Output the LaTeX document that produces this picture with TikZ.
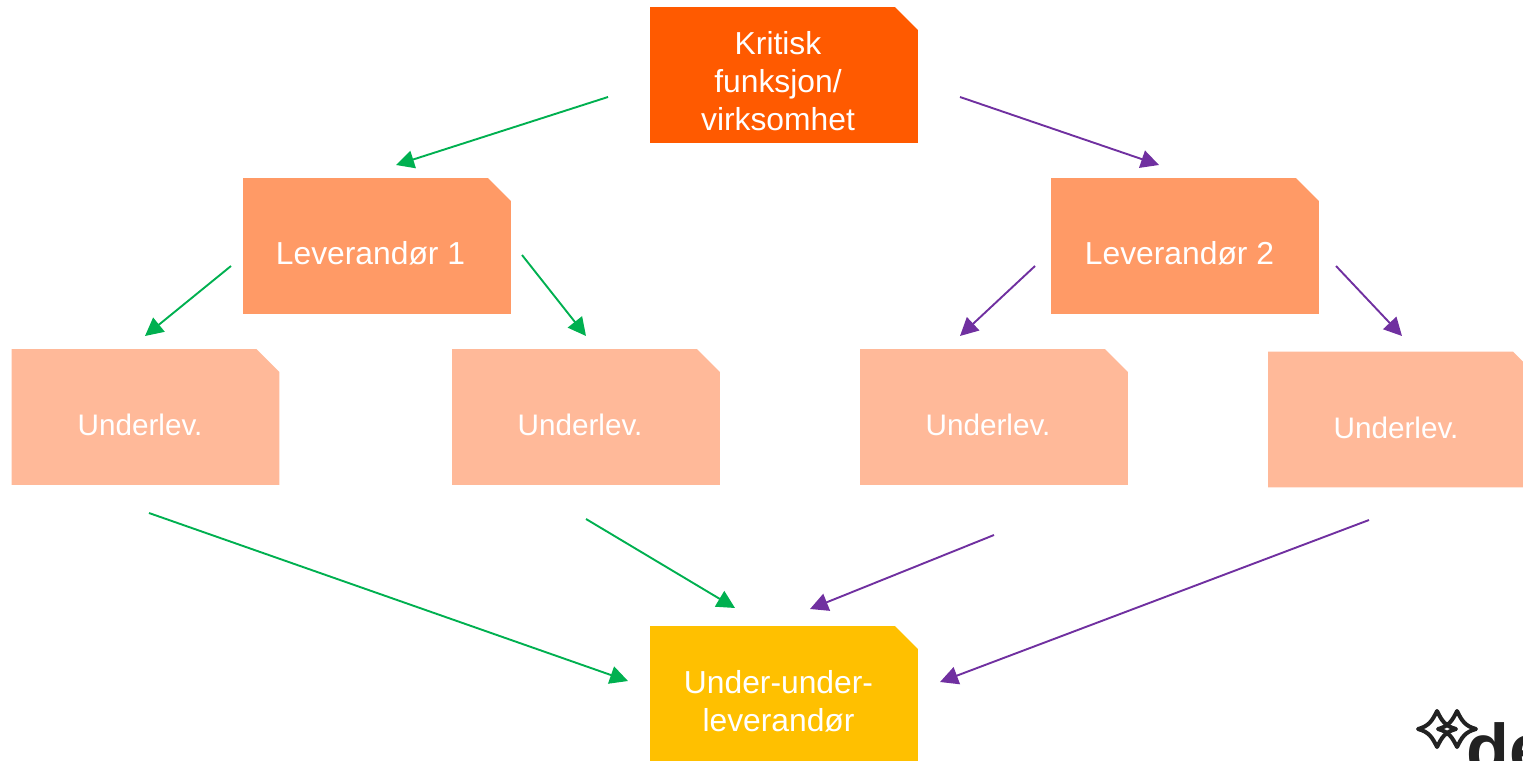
\documentclass[tikz,border=0pt]{standalone}
\usepackage{fontspec}
\setmainfont{Liberation Sans}
\usetikzlibrary{arrows.meta}
\definecolor{critcol}{HTML}{FF5A00}
\definecolor{levcol}{HTML}{FF9A66}
\definecolor{undcol}{HTML}{FFB999}
\definecolor{uucol}{HTML}{FFC000}
\definecolor{greencol}{HTML}{00B050}
\definecolor{purplecol}{HTML}{7030A0}
\definecolor{logocol}{HTML}{222222}
\newcommand{\notefill}[2]{
    \fill[#2] (#1.south west)--(#1.north west)--([xshift=-.46cm]#1.north east)
        --([yshift=-.46cm]#1.north east)--(#1.south east)--cycle;
}
\tikzset{
    notebox/.style={rectangle, minimum width=5.36cm, minimum height=2.72cm, inner sep=0pt, outer sep=0pt},
    boxtext/.style={text=white, align=center, font=\fontsize{18.1}{21.6}\selectfont},
    smalltext/.style={text=white, font=\fontsize{16.9}{19}\selectfont},
    greenline/.style={->, draw=greencol, line width=.038cm},
    purpleline/.style={->, draw=purplecol, line width=.038cm},
    logostar/.style={draw=logocol, line width=.08cm, line join=round}
}
\begin{document}
\begin{tikzpicture}[>={Triangle[length=.36cm,width=.36cm]}, x=.02cm, y=-.02cm]
\useasboundingbox (0,0) rectangle (1523,760);
\clip (0,0) rectangle (1523,760);
\node[notebox] (krit) at (784,75){};
\notefill{krit}{critcol}
\node[boxtext] (krittext) at (778,81){Kritisk\\funksjon/\\virksomhet};
\node[notebox] (lev1) at (377,246){};
\notefill{lev1}{levcol}
\node[boxtext] (lev1text) at (370.5,253){Leverandør 1};
\node[notebox] (lev2) at (1185,246){};
\notefill{lev2}{levcol}
\node[boxtext] (lev2text) at (1179.5,253){Leverandør 2};
\foreach \n/\x/\y/\tx in {1/145.5/417/140, 2/586/417/580, 3/994/417/988, 4/1402/419.5/1396}
{
    \node[notebox] (und\n) at (\x,\y){};
    \notefill{und\n}{undcol}
    \node[smalltext] (und\n text) at (\tx,\y+8){Underlev.};
}
\node[notebox] (uu) at (784,694){};
\notefill{uu}{uucol}
\node[boxtext] (uutext) at (778.5,701){Under-under-\\leverandør};
% arrow ends stop short of the boxes
\foreach \n/\x/\y in {a/608/97, b/396/165, c/231/266, d/145/336, e/522/255, f/586/336,
    g/149/513, h/628/681, i/586/519, j/735/608, k/960/97, l/1159/165, m/1035/266, n/960/336,
    o/1336/266, p/1402/336, q/994/535, r/810/609, s/1369/520, t/940/682}
{
    \coordinate (\n) at (\x,\y);
}
\draw[greenline] (a)--(b);
\draw[greenline] (c)--(d);
\draw[greenline] (e)--(f);
\draw[greenline] (g)--(h);
\draw[greenline] (i)--(j);
\draw[purpleline] (k)--(l);
\draw[purpleline] (m)--(n);
\draw[purpleline] (o)--(p);
\draw[purpleline] (q)--(r);
\draw[purpleline] (s)--(t);
% logo
\foreach \x in {1437,1457}
{
    \draw[logostar] (\x-19,729) .. controls (\x-8,726) and (\x-5,721) .. (\x,711)
        .. controls (\x+5,721) and (\x+8,726) .. (\x+19,729)
        .. controls (\x+8,732) and (\x+5,737) .. (\x,747)
        .. controls (\x-5,737) and (\x-8,732) .. (\x-19,729)--cycle;
}
\node[anchor=base west, inner sep=0pt, text=logocol, font=\bfseries\fontsize{40}{40}\selectfont] (logotext) at (1466,773){de};
\end{tikzpicture}
\end{document}
